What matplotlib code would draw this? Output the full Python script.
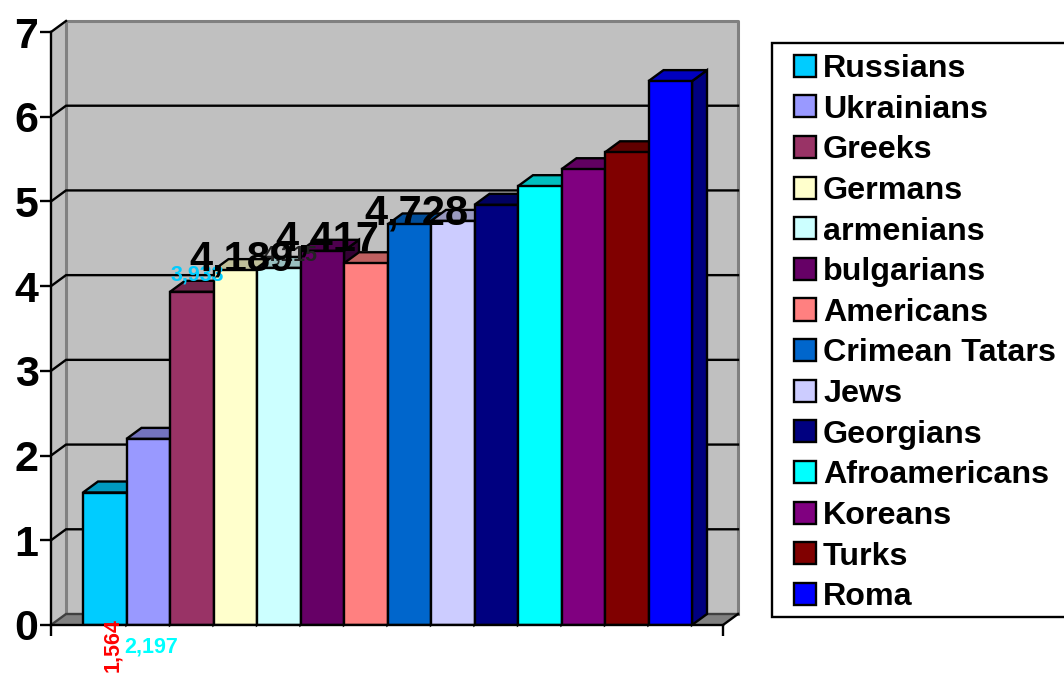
import matplotlib
matplotlib.use("Agg")
import matplotlib.pyplot as plt
from matplotlib.colors import to_rgb
from matplotlib.patches import Polygon, Rectangle

plt.rcParams["font.family"] = ["Liberation Sans", "DejaVu Sans"]
plt.rcParams["font.weight"] = "bold"

groups = ["Russians", "Ukrainians", "Greeks", "Germans", "armenians", "bulgarians",
          "Americans", "Crimean Tatars", "Jews", "Georgians", "Afroamericans",
          "Koreans", "Turks", "Roma"]
values = [1.564, 2.197, 3.933, 4.189, 4.215, 4.417, 4.27, 4.728, 4.77, 4.96, 5.18,
          5.38, 5.58, 6.42]
colors = ["#00CCFF", "#9999FF", "#993366", "#FFFFCC", "#CCFFFF", "#660066", "#FF8080",
          "#0066CC", "#CCCCFF", "#000080", "#00FFFF", "#800080", "#800000", "#0000FF"]
y_ticks = [0, 1, 2, 3, 4, 5, 6, 7]

# data labels that show in the picture: bar index, colour, size, offset in pixels
shown_labels = [
    (0, "#FF0000", 15.5, 8, -153, 90),
    (1, "#00FFFF", 15.5, 3, -208, 0),
    (2, "#00CCFF", 15.5, 6, 17, 0),
    (4, "#222222", 15.5, 12, 13, 0),
    (3, "black", 30, 6, 11, 0),
    (5, "black", 30, 5, 11, 0),
    (7, "black", 30, 7, 11, 0),
]

BAR_PX = 43.5
UNIT_PX = 84.7
x0 = -32 / BAR_PX
x1 = 640 / BAR_PX
dx = 15 / BAR_PX  # depth of the fake 3D
dy = 11 / UNIT_PX
LW = 1.7


def shade(color, k):
    return tuple(c * k for c in to_rgb(color))


fig = plt.figure(figsize=(10.64, 6.73), dpi=100)
ax = fig.add_axes([51 / 1064, 48 / 673, 672 / 1064, 593 / 673])
ax.set_xlim(x0, x1)
ax.set_ylim(0, 7)
ax.patch.set_visible(False)

# Walls
ax.add_patch(Polygon([(x0 + dx, dy), (x1 + dx, dy), (x1 + dx, 7 + dy), (x0 + dx, 7 + dy)],
                     facecolor="#C0C0C0", edgecolor="none", zorder=1, clip_on=False))
ax.add_patch(Polygon([(x0, 0), (x0 + dx, dy), (x0 + dx, 7 + dy), (x0, 7)],
                     facecolor="#C0C0C0", edgecolor="none", zorder=1, clip_on=False))
ax.add_patch(Polygon([(x0, 0), (x1, 0), (x1 + dx, dy), (x0 + dx, dy)],
                     facecolor="#808080", edgecolor="none", zorder=1, clip_on=False))

# Grey frame of the back wall
ax.plot([x0 + dx, x0 + dx, x1 + dx, x1 + dx], [dy, 7 + dy, 7 + dy, dy], color="#808080",
        lw=2.2, zorder=1.2, clip_on=False)

# Gridlines
for t in y_ticks:
    if t == 7:
        ax.plot([x0, x0 + dx], [t, t + dy], color="black", lw=LW, zorder=1.5, clip_on=False)
        continue
    c = "#404040" if t == 0 else "black"
    ax.plot([x0, x0 + dx, x1 + dx], [t, t + dy, t + dy], color=c, lw=LW, zorder=1.5,
            clip_on=False)
ax.plot([x1, x1 + dx], [0, dy], color="black", lw=LW, zorder=1.5, clip_on=False)

# Bars, left to right so each one hides the side of the one before
z = 3
for i, (name, v, c) in enumerate(zip(groups, values, colors)):
    ax.add_patch(Polygon([(i + 1, 0), (i + 1 + dx, dy), (i + 1 + dx, v + dy), (i + 1, v)],
                         facecolor=shade(c, 0.5), edgecolor="black", lw=LW, zorder=z,
                         clip_on=False))
    ax.add_patch(Polygon([(i, v), (i + 1, v), (i + 1 + dx, v + dy), (i + dx, v + dy)],
                         facecolor=shade(c, 0.75), edgecolor="black", lw=LW, zorder=z,
                         clip_on=False))
    ax.bar(i, v, width=1, align="edge", color=c, edgecolor="black", lw=LW, label=name,
           zorder=z + 0.5)
    z += 1

# Data labels
for n, (i, col, size, ox, oy, rot) in enumerate(shown_labels):
    ax.annotate(f"{values[i]:.3f}".replace(".", ","), xy=(i + 0.5, values[i]), xytext=(ox, oy),
                textcoords="offset pixels", ha="center", va="center", color=col,
                fontsize=size, fontweight="bold", rotation=rot, zorder=50 + n,
                annotation_clip=False)

# Axes
for side in ["top", "right"]:
    ax.spines[side].set_visible(False)
for side in ["left", "bottom"]:
    ax.spines[side].set_linewidth(LW)
    ax.spines[side].set_zorder(40)
ax.set_yticks(y_ticks)
ax.set_xticks([x0, x1])
ax.set_xticklabels([])
ax.tick_params(axis="both", length=8, width=LW, color="black")
ax.tick_params(axis="y", labelsize=31, pad=1)

# Legend box runs past the right edge of the picture, so it is drawn apart from the entries
fig.add_artist(Rectangle((772 / 1064, 1 - 617 / 673), 330 / 1064, 574 / 673,
                         transform=fig.transFigure, facecolor="white", edgecolor="black",
                         lw=LW, zorder=-1))
leg = ax.legend(loc="upper left", bbox_to_anchor=(794 / 1064, 1 - 54 / 673),
                bbox_transform=fig.transFigure, borderaxespad=0, fontsize=23.2,
                frameon=False, handlelength=0.68, handleheight=0.68, handletextpad=0.22,
                labelspacing=0.33, borderpad=0)
leg.set_zorder(60)

fig.savefig("out.png", dpi=100)
